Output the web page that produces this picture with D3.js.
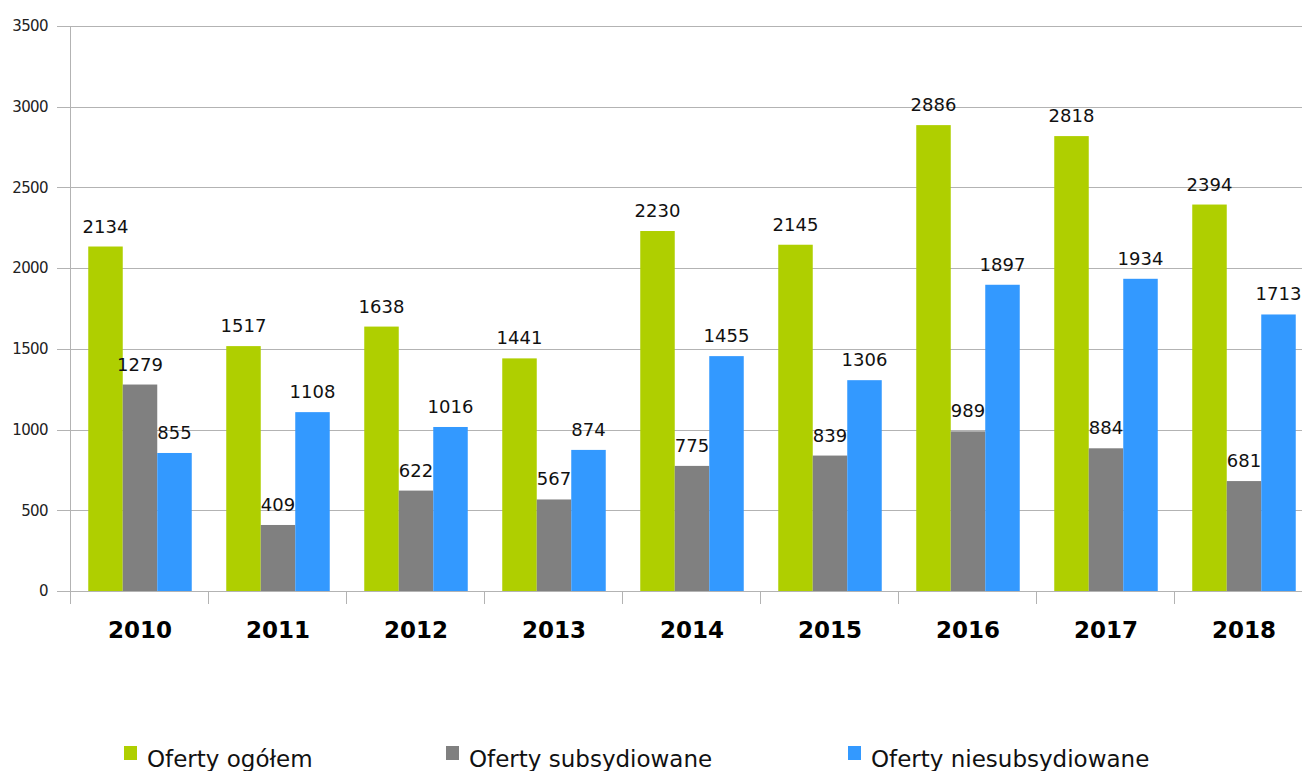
<!DOCTYPE html>
<html><head><meta charset="utf-8">
<script src="https://cdn.jsdelivr.net/npm/d3@7"></script>
<style>body{margin:0;background:#fff}svg{display:block}</style>
</head><body>
<svg id="c" width="1302" height="771"></svg>
<script>
const years = ["2010","2011","2012","2013","2014","2015","2016","2017","2018"];
const seriesNames = ["Oferty ogółem","Oferty subsydiowane","Oferty niesubsydiowane"];
const ogolem = [2134,1517,1638,1441,2230,2145,2886,2818,2394];
const subsydiowane = [1279,409,622,567,775,839,989,884,681];
const niesubsydiowane = [855,1108,1016,874,1455,1306,1897,1934,1713];
const yTicks = [0,500,1000,1500,2000,2500,3000,3500];
const colors = ["#afcf00","#808080","#3399ff"];
const series = [ogolem, subsydiowane, niesubsydiowane];

(function(){
const svg = d3.select("#c");
const mL = 71, mR = 1313, mT = 26, mB = 591;
const x = d3.scaleBand().domain(years).range([mL, mR]).paddingInner(0).paddingOuter(0);
const xs = d3.scaleBand().domain(d3.range(3)).range([0, x.bandwidth()]).paddingInner(0).paddingOuter(0.5);
const y = d3.scaleLinear().domain([0,3500]).range([mB, mT]);

svg.append("g").selectAll("line").data(yTicks).join("line")
  .attr("x1", 57).attr("x2", 1302).attr("y1", d=>Math.round(y(d))+0.5).attr("y2", d=>Math.round(y(d))+0.5)
  .attr("stroke", "#b3b3b3").attr("stroke-width", 1);
svg.append("g").selectAll("text").data(yTicks).join("text")
  .attr("x", 48).attr("y", d=>y(d)).attr("dy","0.35em").attr("text-anchor","end")
  .attr("font-family","DejaVu Sans, sans-serif").attr("font-size",15).attr("letter-spacing","-0.6px")
  .attr("fill","#222").text(d=>d);
svg.append("line").attr("x1",mL-0.5).attr("x2",mL-0.5).attr("y1",mT).attr("y2",mB+13)
  .attr("stroke","#b3b3b3");
svg.append("g").selectAll("line").data(years.slice(1)).join("line")
  .attr("x1", d=>Math.round(x(d))-0.5).attr("x2", d=>Math.round(x(d))-0.5).attr("y1", mB).attr("y2", mB+13)
  .attr("stroke","#b3b3b3");

const g = svg.append("g");
years.forEach((yr,i)=>{
  series.forEach((s,j)=>{
    g.append("rect").attr("x", x(yr)+xs(j)).attr("width", xs.bandwidth())
      .attr("y", y(s[i])).attr("height", mB - y(s[i])).attr("fill", colors[j]);
  });
});
years.forEach((yr,i)=>{
  series.forEach((s,j)=>{
    g.append("text").attr("x", x(yr)+xs(j)+xs.bandwidth()/2).attr("y", y(s[i]) - 14)
      .attr("text-anchor","middle").attr("font-family","DejaVu Sans, sans-serif").attr("font-size",18)
      .attr("fill","#111").text(s[i]);
  });
});
svg.append("g").selectAll("text").data(years).join("text")
  .attr("x", d=>x(d)+x.bandwidth()/2).attr("y", 638).attr("text-anchor","middle")
  .attr("font-family","DejaVu Sans, sans-serif").attr("font-weight","bold").attr("font-size",23)
  .attr("fill","#000").text(d=>d);

const legX = [124, 446, 848];
const lg = svg.append("g");
seriesNames.forEach((n,j)=>{
  lg.append("rect").attr("x", legX[j]).attr("y", 746).attr("width", 13).attr("height", 14).attr("fill", colors[j]);
  lg.append("text").attr("x", legX[j]+23).attr("y", 767).attr("font-family","DejaVu Sans, sans-serif")
    .attr("font-size",23).attr("fill","#111").text(n);
});
})();
</script>
</body></html>
